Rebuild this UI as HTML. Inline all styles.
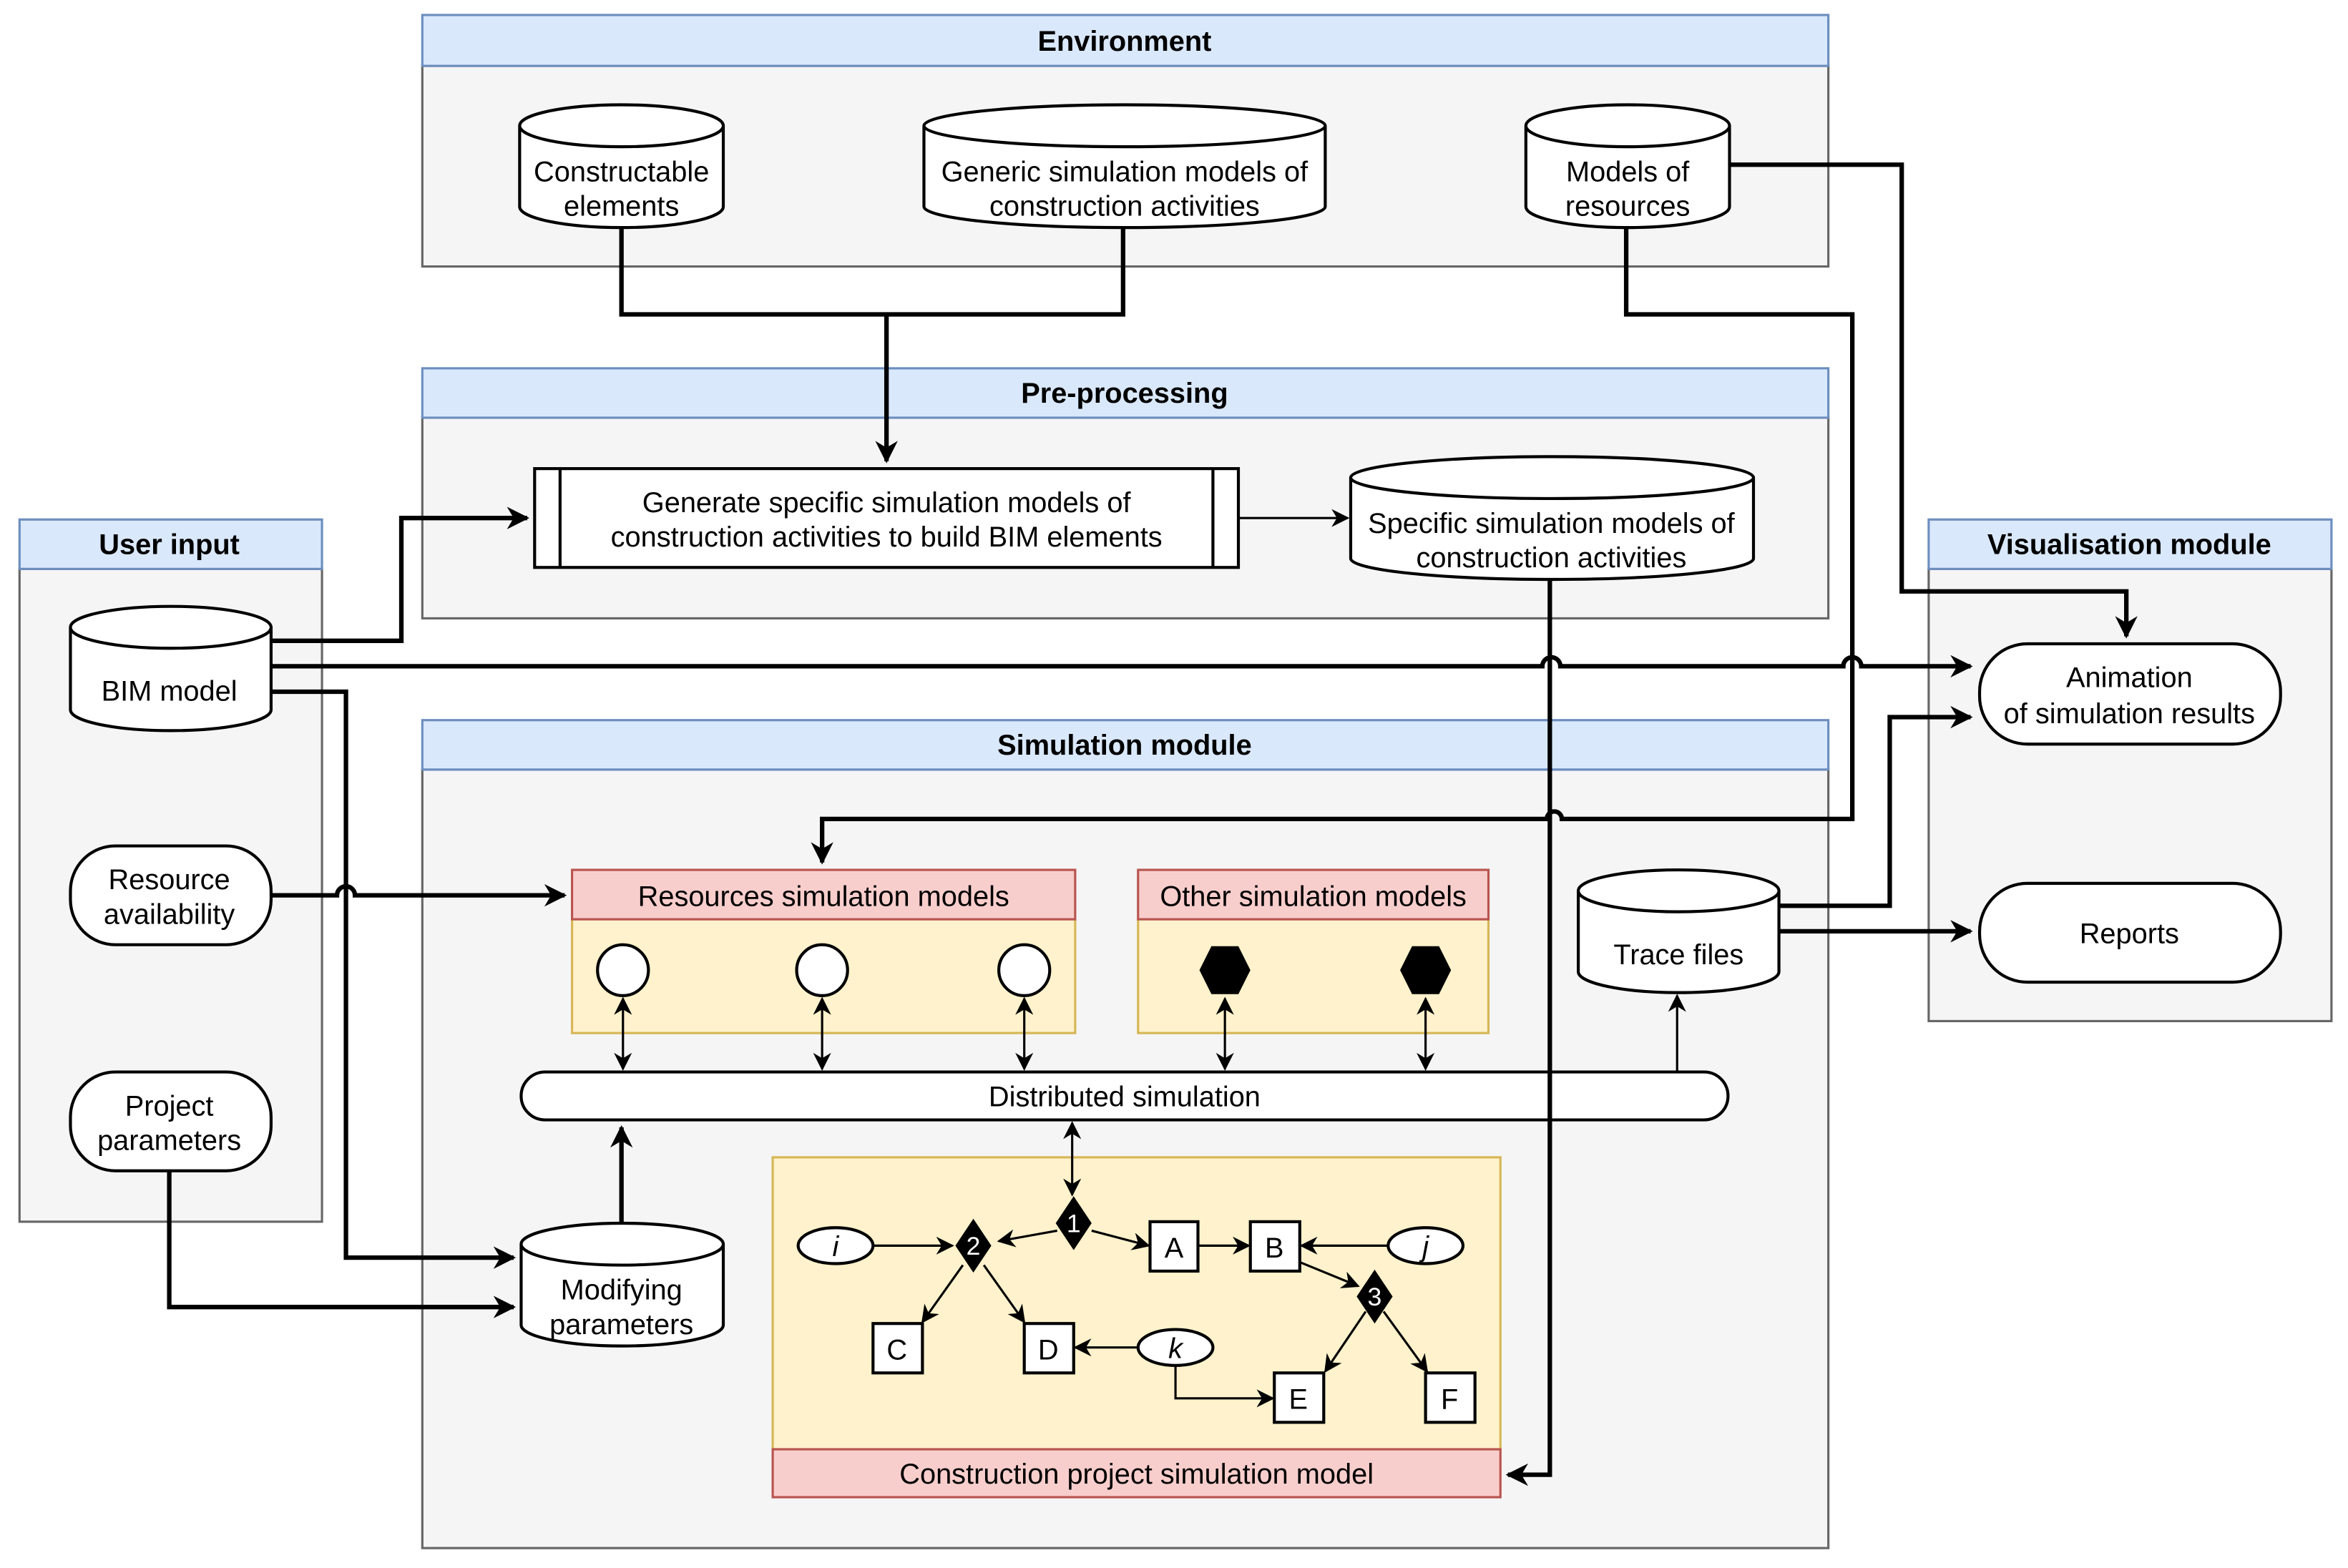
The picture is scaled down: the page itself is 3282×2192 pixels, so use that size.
<!DOCTYPE html>
<html><head><meta charset="utf-8"><style>html,body{margin:0;padding:0;background:#fff}svg{display:block}svg text{font-family:"Liberation Sans",Arial,sans-serif}</style></head><body>
<svg width="3282" height="2192" viewBox="0 0 1568 1047.3" xmlns="http://www.w3.org/2000/svg">
<defs>
<marker id="a" viewBox="0 0 10 10" refX="9" refY="5" markerWidth="5" markerHeight="5" orient="auto-start-reverse" markerUnits="strokeWidth"><path d="M0,0 L10,5 L0,10 L3,5 z" fill="#000"/></marker>
<marker id="t" viewBox="0 0 10 10" refX="9" refY="5" markerWidth="8" markerHeight="8" orient="auto-start-reverse" markerUnits="strokeWidth"><path d="M0,0 L10,5 L0,10 L3,5 z" fill="#000"/></marker>
</defs>
<g stroke-width="1.5">
<rect x="282" y="44" width="939" height="134" fill="#f5f5f5" stroke="#666"/><rect x="282" y="10" width="939" height="34" fill="#dae8fc" stroke="#6c8ebf"/>
<rect x="282" y="279" width="939" height="134" fill="#f5f5f5" stroke="#666"/><rect x="282" y="246" width="939" height="33" fill="#dae8fc" stroke="#6c8ebf"/>
<rect x="13" y="380" width="202" height="436" fill="#f5f5f5" stroke="#666"/><rect x="13" y="347" width="202" height="33" fill="#dae8fc" stroke="#6c8ebf"/>
<rect x="282" y="514" width="939" height="520" fill="#f5f5f5" stroke="#666"/><rect x="282" y="481" width="939" height="33" fill="#dae8fc" stroke="#6c8ebf"/>
<rect x="1288" y="380" width="269" height="302" fill="#f5f5f5" stroke="#666"/><rect x="1288" y="347" width="269" height="33" fill="#dae8fc" stroke="#6c8ebf"/>
<rect x="382" y="614" width="336" height="76" fill="#fff2cc" stroke="#d6b656"/><rect x="382" y="581" width="336" height="33" fill="#f8cecc" stroke="#b85450"/>
<rect x="760" y="614" width="234" height="76" fill="#fff2cc" stroke="#d6b656"/><rect x="760" y="581" width="234" height="33" fill="#f8cecc" stroke="#b85450"/>
<rect x="516" y="773" width="486" height="195" fill="#fff2cc" stroke="#d6b656"/><rect x="516" y="968" width="486" height="32" fill="#f8cecc" stroke="#b85450"/>
</g>
<g font-weight="bold" font-size="19" text-anchor="middle">
<text x="751" y="34">Environment</text><text x="751" y="269">Pre-processing</text><text x="113" y="370">User input</text><text x="751" y="504">Simulation module</text><text x="1422" y="370">Visualisation module</text>
</g>
<g fill="none" stroke="#000" stroke-width="3">
<path d="M415,152 V210 H750 V152 M592,210 V308" marker-end="url(#a)"/>
<path d="M1155,110 H1270 V395 H1420 V425" marker-end="url(#a)"/>
<path d="M1086,152 V210 H1237 V547 H1043 A5,5 0 0 0 1033,547 H549 V576" marker-end="url(#a)"/>
<path d="M181,428 H268 V346 H352" marker-end="url(#a)"/>
<path d="M181,445 H1030 A6,6 0 0 1 1042,445 H1231 A6,6 0 0 1 1243,445 H1316" marker-end="url(#a)"/>
<path d="M181,462 H231 V840 H343" marker-end="url(#a)"/>
<path d="M181,598 H225 A6,6 0 0 1 237,598 H377" marker-end="url(#a)"/>
<path d="M113,782 V873 H343" marker-end="url(#a)"/>
<path d="M415,817 V753" marker-end="url(#a)"/>
<path d="M1188,605 H1262 V479 H1316" marker-end="url(#a)"/>
<path d="M1188,622 H1316" marker-end="url(#a)"/>
</g>
<g fill="none" stroke="#000" stroke-width="1.5">
<path d="M827,346 H900" marker-end="url(#t)"/>
<path d="M1120,716 V665" marker-end="url(#t)"/>
<path d="M416,667 V714" marker-start="url(#t)" marker-end="url(#t)"/>
<path d="M549,667 V714" marker-start="url(#t)" marker-end="url(#t)"/>
<path d="M684,667 V714" marker-start="url(#t)" marker-end="url(#t)"/>
<path d="M818,667 V714" marker-start="url(#t)" marker-end="url(#t)"/>
<path d="M952,667 V714" marker-start="url(#t)" marker-end="url(#t)"/>
<path d="M716,750 V798" marker-start="url(#t)" marker-end="url(#t)"/>
<path d="M583,832 H636" marker-end="url(#t)"/>
<path d="M706,822 L667,829" marker-end="url(#t)"/>
<path d="M729,822 L767,832" marker-end="url(#t)"/>
<path d="M800,832 H834" marker-end="url(#t)"/>
<path d="M927,832 H869" marker-end="url(#t)"/>
<path d="M868,843 L907,859" marker-end="url(#t)"/>
<path d="M643,845 L616,883" marker-end="url(#t)"/>
<path d="M657,845 L684,883" marker-end="url(#t)"/>
<path d="M760,900 H718" marker-end="url(#t)"/>
<path d="M785,912 V934 H850" marker-end="url(#t)"/>
<path d="M912,876 L885,916" marker-end="url(#t)"/>
<path d="M924,876 L953,916" marker-end="url(#t)"/>
</g>
<g fill="#fff" stroke="#000" stroke-width="2">
<path d="M347,84 V138 A68,14 0 0 0 483,138 V84 A68,14 0 0 0 347,84 A68,14 0 0 0 483,84"/>
<path d="M617,84 V138 A134,14 0 0 0 885,138 V84 A134,14 0 0 0 617,84 A134,14 0 0 0 885,84"/>
<path d="M1019,84 V138 A68,14 0 0 0 1155,138 V84 A68,14 0 0 0 1019,84 A68,14 0 0 0 1155,84"/>
<path d="M902,319 V373 A134.5,14 0 0 0 1171,373 V319 A134.5,14 0 0 0 902,319 A134.5,14 0 0 0 1171,319"/>
<path d="M47,419 V474 A67,14 0 0 0 181,474 V419 A67,14 0 0 0 47,419 A67,14 0 0 0 181,419"/>
<path d="M1054,595 V649 A67,14 0 0 0 1188,649 V595 A67,14 0 0 0 1054,595 A67,14 0 0 0 1188,595"/>
<path d="M348,831 V885 A67.5,14 0 0 0 483,885 V831 A67.5,14 0 0 0 348,831 A67.5,14 0 0 0 483,831"/>
<rect x="357" y="313" width="470" height="66"/><path d="M374,313 V379 M810,313 V379"/>
<rect x="47" y="565" width="134" height="66" rx="30"/>
<rect x="47" y="716" width="134" height="66" rx="30"/>
<rect x="1322" y="430" width="201" height="67" rx="32"/>
<rect x="1322" y="590" width="201" height="66" rx="32"/>
<rect x="348" y="716" width="806" height="32" rx="16"/>
<circle cx="416" cy="648" r="17"/><circle cx="549" cy="648" r="17"/><circle cx="684" cy="648" r="17"/>
<rect x="768" y="816" width="32" height="33"/><rect x="835" y="816" width="33" height="33"/>
<rect x="583" y="884" width="33" height="33"/><rect x="684" y="884" width="33" height="33"/>
<rect x="851" y="917" width="33" height="33"/><rect x="952" y="917" width="33" height="33"/>
<ellipse cx="558" cy="832" rx="25" ry="12"/><ellipse cx="952" cy="832" rx="25" ry="12"/><ellipse cx="785" cy="900" rx="25" ry="12"/>
</g>
<path d="M1035,387 V985 H1007" fill="none" stroke="#000" stroke-width="3" marker-end="url(#a)"/>
<g fill="#000">
<polygon points="801,648 809,632 827,632 835,648 827,664 809,664"/>
<polygon points="935,648 943,632 961,632 969,648 961,664 943,664"/>
<polygon points="717,799 729,817 717,835 705,817"/>
<polygon points="650,814 662,832 650,850 638,832"/>
<polygon points="918,848 930,866 918,884 906,866"/>
</g>
<g font-size="19" text-anchor="middle" fill="#000">
<text x="415" y="121">Constructable</text><text x="415" y="144">elements</text>
<text x="751" y="121">Generic simulation models of</text><text x="751" y="144">construction activities</text>
<text x="1087" y="121">Models of</text><text x="1087" y="144">resources</text>
<text x="592" y="342">Generate specific simulation models of</text><text x="592" y="365">construction activities to build BIM elements</text>
<text x="1036" y="356">Specific simulation models of</text><text x="1036" y="379">construction activities</text>
<text x="113" y="468">BIM model</text>
<text x="113" y="594">Resource</text><text x="113" y="617">availability</text>
<text x="113" y="745">Project</text><text x="113" y="768">parameters</text>
<text x="550" y="605">Resources simulation models</text>
<text x="877" y="605">Other simulation models</text>
<text x="1121" y="644">Trace files</text>
<text x="751" y="739">Distributed simulation</text>
<text x="415" y="868">Modifying</text><text x="415" y="891">parameters</text>
<text x="759" y="991">Construction project simulation model</text>
<text x="1422" y="459">Animation</text><text x="1422" y="483">of simulation results</text>
<text x="1422" y="630">Reports</text>
<text x="784" y="840">A</text><text x="851" y="840">B</text><text x="599" y="908">C</text><text x="700" y="908">D</text><text x="867" y="941">E</text><text x="968" y="941">F</text>
<text x="558" y="839" font-style="italic">i</text><text x="952" y="839" font-style="italic">j</text><text x="785" y="907" font-style="italic">k</text>
<g fill="#fff" font-size="17"><text x="717" y="823">1</text><text x="650" y="838">2</text><text x="918" y="872">3</text></g>
</g>
</svg>
</body></html>
